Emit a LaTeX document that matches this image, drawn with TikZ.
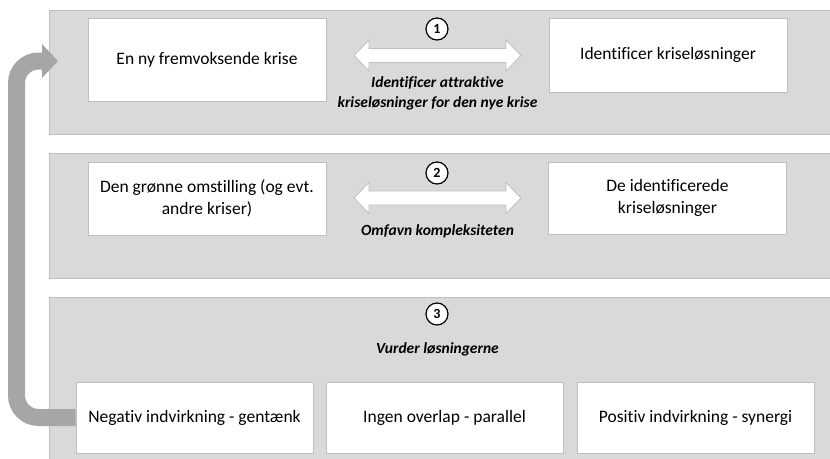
\documentclass[tikz,border=0pt]{standalone}
\usepackage{fontspec}
\setmainfont{Carlito}[Ligatures=NoCommon]
\usepackage{xcolor}
\usetikzlibrary{positioning, arrows.meta, calc}
\definecolor{bandgrey}{HTML}{D9D9D9}
\definecolor{edgegrey}{HTML}{BFBFBF}
\definecolor{loopgrey}{HTML}{A6A6A6}

\begin{document}
\begin{tikzpicture}[x=1pt, y=-1pt,
    band/.style={fill=bandgrey, draw=edgegrey, line width=0.8pt},
    card/.style={draw=edgegrey, fill=white, line width=0.8pt, align=center,
      minimum width=238pt, inner sep=2pt, font=\fontsize{17.5}{22}\selectfont},
    numbadge/.style={circle, draw=black, fill=white, line width=1.2pt,
      minimum size=22pt, inner sep=0pt, font=\bfseries\fontsize{14}{16}\selectfont},
    caption/.style={align=center, font=\bfseries\itshape\fontsize{15.5}{20}\selectfont},
    swaparrow/.style={draw=edgegrey, fill=white, line width=0.8pt},
    backloop/.style={draw=loopgrey, line width=17pt, rounded corners=22pt,
      -{Triangle[length=16pt, width=33pt]}}]

    \useasboundingbox (0,0) rectangle (830,458);

    % bands
    \foreach \top/\bot in {10/134, 153/278, 297/462} {
      \draw[band] (49,\top) rectangle (834,\bot);
    }

    % double arrows between the boxes
    \foreach \y in {55.5, 198} {
      \draw[swaparrow] (354,\y) -- (369,\y-15.5) -- (369,\y-7) -- (506,\y-7)
        -- (506,\y-15.5) -- (521,\y) -- (506,\y+15.5) -- (506,\y+7)
        -- (369,\y+7) -- (369,\y+15.5) -- cycle;
    }

    % step 1
    \node[card, minimum height=83pt] (newcrisis) at (207,59.5) {En ny fremvoksende krise};
    \node[card, minimum height=74pt] (findsol) at (668,55) {Identificer kriseløsninger};
    \node[numbadge] (one) at (437,29) {1};
    \node[caption] (attract) at (437.5,93) {Identificer attraktive\\kriseløsninger for den nye krise};

    % step 2
    \node[card, minimum height=73pt] (green) at (207,198.5) {Den grønne omstilling (og evt.\\andre kriser)};
    \node[card, minimum height=72pt] (foundsol) at (667.5,198) {De identificerede\\kriseløsninger};
    \node[numbadge] (two) at (437,173) {2};
    \node[caption] (embrace) at (437.5,231) {Omfavn kompleksiteten};

    % step 3
    \node[numbadge] (three) at (437,314) {3};
    \node[caption] (assess) at (437.5,349) {Vurder løsningerne};
    \node[card, minimum width=237pt, minimum height=71pt] (negative) at (194.5,417.5) {Negativ indvirkning - gentænk};
    \node[card, minimum width=237pt, minimum height=71pt] (overlap) at (444.5,417.5) {Ingen overlap - parallel};
    \node[card, minimum width=237pt, minimum height=71pt] (positive) at (695.5,417.5) {Positiv indvirkning - synergi};

    % back to a new crisis
    \coordinate (loopcorner) at (16.5,61);
    \coordinate (loopend) at (58,61);
    \draw[backloop] (negative.west) -| (loopcorner) -- (loopend);
  \end{tikzpicture}
\end{document}
